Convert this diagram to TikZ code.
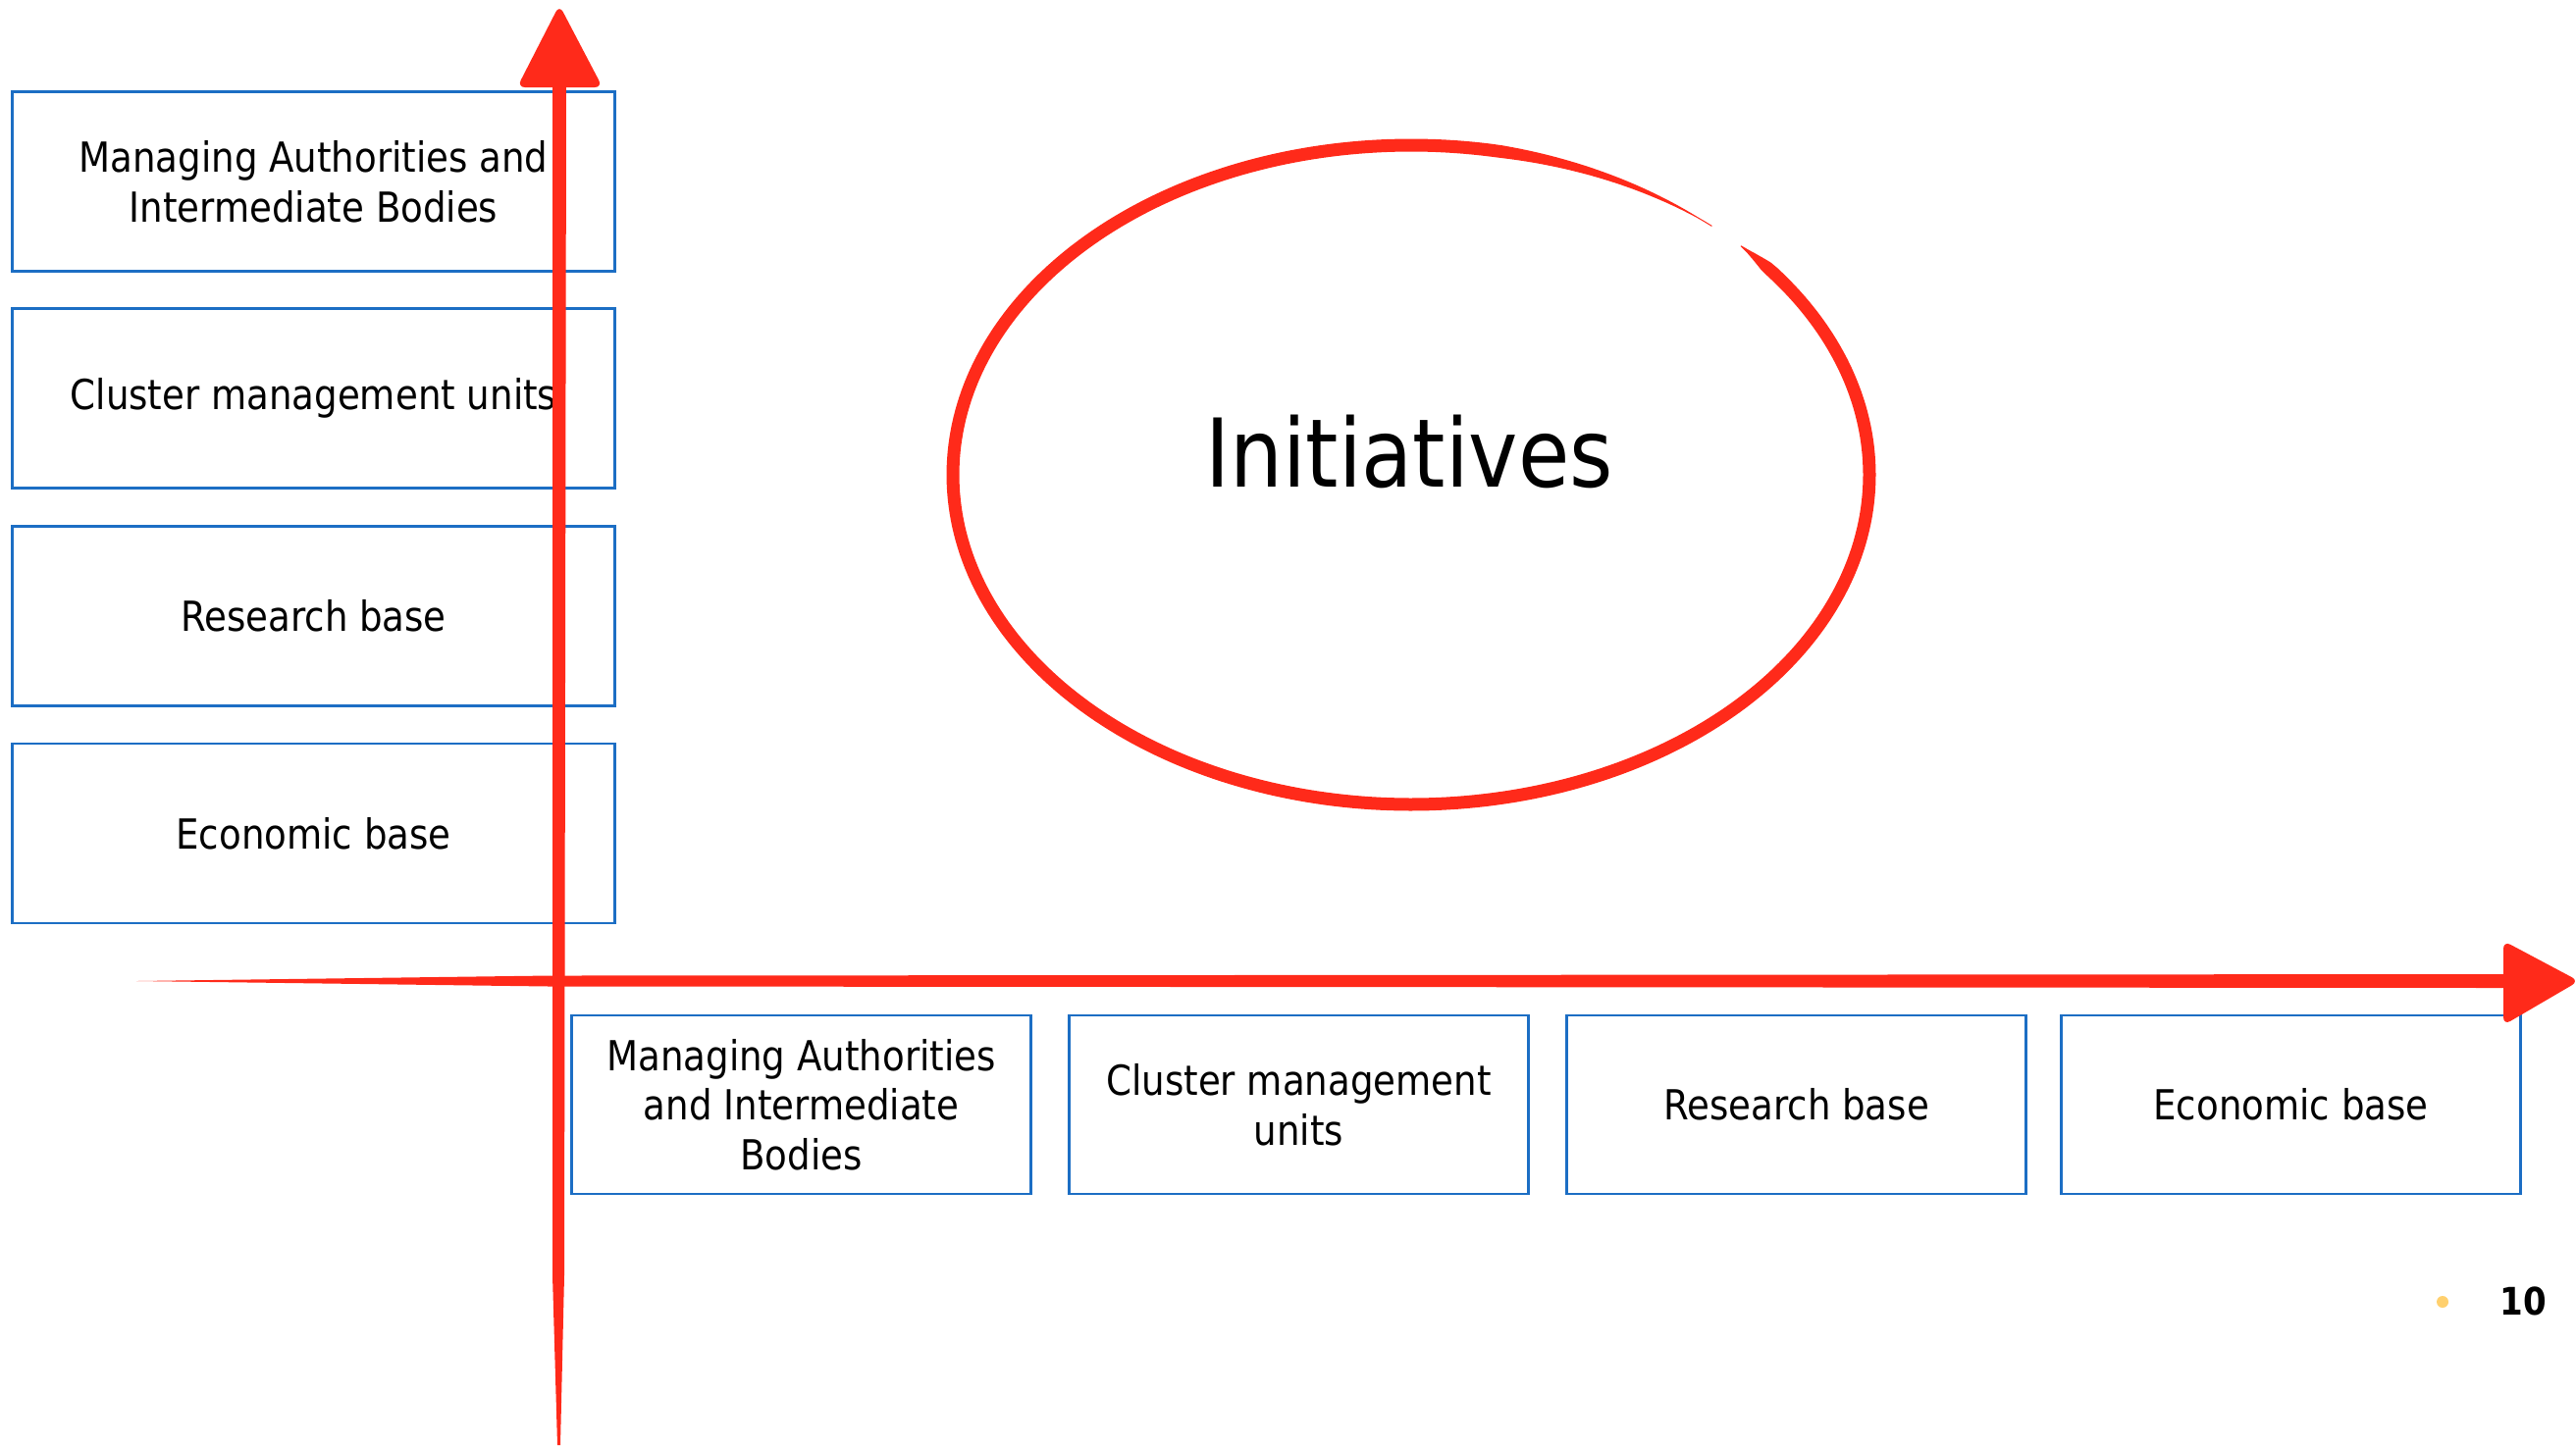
\documentclass[tikz,border=0pt]{standalone}
\usepackage{fontspec}
\setmainfont{DejaVu Sans}[FakeStretch=0.88]
\definecolor{axisred}{RGB}{255,42,26}
\definecolor{boxblue}{RGB}{28,110,196}
\definecolor{dotyellow}{RGB}{255,208,110}
\begin{document}
\begin{tikzpicture}[x=0.01cm,y=-0.01cm,
  box/.style={draw=boxblue, line width=0.8pt, align=center, font=\fontsize{12}{14.4}\selectfont, inner sep=0pt},
  leftbox/.style={box, minimum width=6.13cm, minimum height=1.83cm},
  botbox/.style={box, minimum width=4.67cm, minimum height=1.82cm},
  axisfill/.style={fill=axisred},
  headfill/.style={fill=axisred, rounded corners=0.8mm},
  declare function={ew(\t)=max(1,13*min(1,(\t-49)/30)*min(1,(404-\t)/5));}
  ]
\useasboundingbox (0,0) rectangle (2625,1475);

% left boxes
\node[leftbox] (L1) at (319.5,185) {Managing Authorities and\\Intermediate Bodies};
\node[leftbox] (L2) at (319.5,406) {Cluster management units};
\node[leftbox] (L3) at (319.5,628) {Research base};
\node[leftbox] (L4) at (319.5,849.5) {Economic base};

% bottom boxes
\node[botbox] (B1) at (816.5,1126) {Managing Authorities\\and Intermediate\\Bodies};
\node[botbox] (B2) at (1323.5,1126) {Cluster management\\units};
\node[botbox] (B3) at (1830.5,1126) {Research base};
\node[botbox] (B4) at (2334.5,1126) {Economic base};

% ellipse
\fill[axisred] plot[domain=49:404,samples=300,variable=\t]
   ({1438+(467+ew(\t)/2)*cos(\t)},{484-(336+ew(\t)/2)*sin(\t)})
   -- plot[domain=404:49,samples=300,variable=\t]
   ({1438+(467-ew(\t)/2)*cos(\t)},{484-(336-ew(\t)/2)*sin(\t)}) -- cycle;
\node[font=\fontsize{27.5}{33}\selectfont, inner sep=0pt] (init) at (1436,460) {Initiatives};

% vertical axis
\coordinate (vtop) at (570,5);
\coordinate (vbot) at (569.5,1473);
\fill[axisfill] (568,1473) -- (563,1300) -- (563,80) -- (577,80) -- (575,1300) -- (571,1473) -- cycle;
\fill[headfill] (vtop) -- (614,89) -- (527,89) -- cycle;

% horizontal axis
\coordinate (hleft) at (139,1000);
\coordinate (htip) at (2628,1000);
\fill[axisfill] (hleft) -- (560,994.5) -- (2556,993) -- (2556,1007) -- (560,1005.5) -- cycle;
\fill[headfill] (2551,959) -- (htip) -- (2551,1045) -- cycle;

% page number
\node[circle, fill=dotyellow, minimum size=1.2mm, inner sep=0pt] (dot) at (2489,1327) {};
\node[font=\bfseries\fontsize{11}{13}\selectfont, inner sep=0pt] (pagenum) at (2571,1326) {10};
\end{tikzpicture}
\end{document}
